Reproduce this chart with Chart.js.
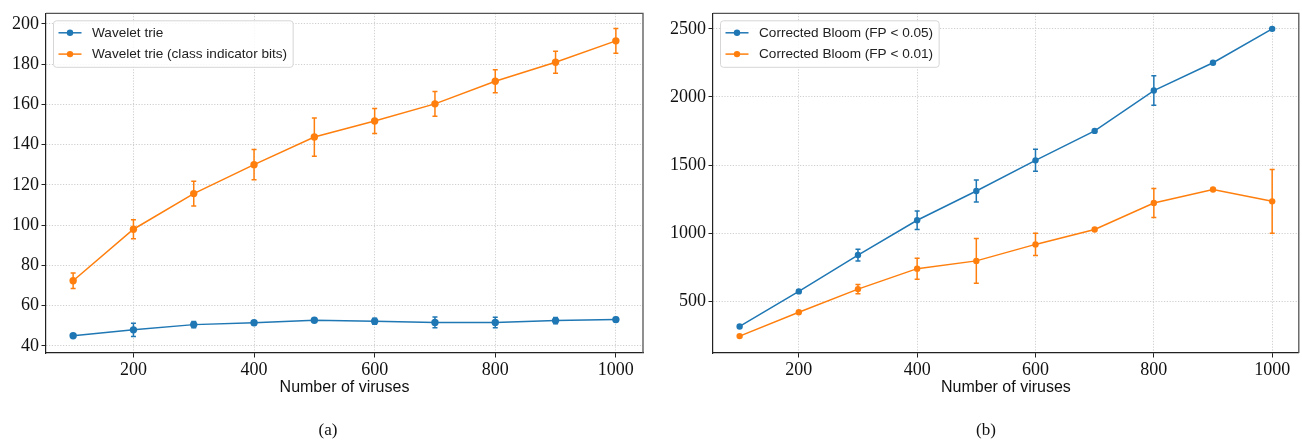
<!DOCTYPE html>
<html>
<head>
<meta charset="utf-8">
<script src="https://cdn.jsdelivr.net/npm/chart.js@4.4.1/dist/chart.umd.min.js"></script>
<style>
  html, body { margin: 0; padding: 0; background: #fff; }
  body { width: 1302px; height: 442px; position: relative; overflow: hidden; }
  .panel { position: absolute; top: 0; width: 651px; height: 442px; }
  .caption { position: absolute; top: 420px; font: 17px "Liberation Serif", serif; color: #111; transform: translateX(-50%); }
</style>
</head>
<body>
<div class="panel" style="left:0"><canvas id="chart-a" width="651" height="442"></canvas></div>
<div class="panel" style="left:651px"><canvas id="chart-b" width="651" height="442"></canvas></div>
<div class="caption" style="left:328px">(a)</div>
<div class="caption" style="left:986px">(b)</div>
<script>
var viruses = [100, 200, 300, 400, 500, 600, 700, 800, 900, 1000];
var xTicks = [200, 400, 600, 800, 1000];

// (a) wavelet trie sizes
var trie      = [45.1, 48.0, 50.6, 51.5, 52.8, 52.3, 51.7, 51.7, 52.6, 53.1];
var trieErr   = [0.8, 3.3, 1.6, 1.0, 1.0, 1.5, 2.7, 2.6, 1.6, 1.0];
var trieBits    = [72.4, 98.0, 115.7, 130.1, 143.8, 151.8, 160.3, 171.5, 181.0, 191.6];
var trieBitsErr = [3.9, 4.7, 6.2, 7.5, 9.5, 6.2, 6.2, 5.7, 5.5, 6.1];
var yTicksA = [40, 60, 80, 100, 120, 140, 160, 180, 200];

// (b) corrected bloom filter sizes
var bloom05    = [316, 573, 840, 1095, 1310, 1535, 1751, 2047, 2251, 2500];
var bloom05Err = [0, 0, 43, 68, 80, 81, 0, 108, 0, 0];
var bloom01    = [245, 420, 590, 740, 797, 918, 1027, 1222, 1321, 1234];
var bloom01Err = [0, 0, 34, 77, 165, 81, 0, 106, 0, 234];
var yTicksB = [500, 1000, 1500, 2000, 2500];

var BLUE = '#1f77b4';
var ORANGE = '#ff7f0e';

function points(ys) {
  return viruses.map(function(x, i) { return { x: x, y: ys[i] }; });
}

// vertical error bars with small caps
var errorBars = {
  id: 'errorBars',
  afterDatasetsDraw: function(chart) {
    var ctx = chart.ctx;
    var yScale = chart.scales.y;
    chart.data.datasets.forEach(function(ds, i) {
      if (!ds.errors) return;
      var meta = chart.getDatasetMeta(i);
      ctx.save();
      ctx.strokeStyle = ds.borderColor;
      ctx.lineWidth = 1.5;
      meta.data.forEach(function(pt, j) {
        var e = ds.errors[j];
        if (!e) return;
        var v = ds.data[j].y;
        var top = yScale.getPixelForValue(v + e);
        var bot = yScale.getPixelForValue(v - e);
        ctx.beginPath();
        ctx.moveTo(pt.x, top); ctx.lineTo(pt.x, bot);
        ctx.moveTo(pt.x - 2.5, top); ctx.lineTo(pt.x + 2.5, top);
        ctx.moveTo(pt.x - 2.5, bot); ctx.lineTo(pt.x + 2.5, bot);
        ctx.stroke();
      });
      ctx.restore();
    });
  }
};

// top and right spines
var frame = {
  id: 'frame',
  afterDraw: function(chart) {
    var ctx = chart.ctx, a = chart.chartArea;
    ctx.save();
    ctx.strokeStyle = '#555';
    ctx.lineWidth = 1.3;
    ctx.beginPath();
    ctx.moveTo(a.left, a.top);
    ctx.lineTo(a.right, a.top);
    ctx.lineTo(a.right, a.bottom);
    ctx.stroke();
    ctx.restore();
  }
};

// boxed legend in the upper left corner of the plot
var boxLegend = {
  id: 'boxLegend',
  afterDraw: function(chart) {
    var ctx = chart.ctx, a = chart.chartArea;
    var x0 = a.left + 7.5, y0 = a.top + 7.5;
    ctx.save();
    ctx.font = '13.6px "Liberation Sans", sans-serif';
    var w = 0;
    chart.data.datasets.forEach(function(ds) {
      w = Math.max(w, ctx.measureText(ds.label).width);
    });
    ctx.beginPath();
    ctx.roundRect(x0, y0, 38 + w + 6.5, 46.5, 3);
    ctx.fillStyle = 'rgba(255,255,255,0.85)';
    ctx.fill();
    ctx.strokeStyle = '#d6d6d6';
    ctx.lineWidth = 1;
    ctx.stroke();
    chart.data.datasets.forEach(function(ds, i) {
      var cy = y0 + 12 + i * 21.3;
      ctx.strokeStyle = ds.borderColor;
      ctx.lineWidth = 1.5;
      ctx.beginPath();
      ctx.moveTo(x0 + 5, cy); ctx.lineTo(x0 + 28, cy);
      ctx.stroke();
      ctx.fillStyle = ds.borderColor;
      ctx.beginPath();
      ctx.arc(x0 + 16.5, cy, 3.2, 0, Math.PI * 2);
      ctx.fill();
      ctx.fillStyle = '#222';
      ctx.textBaseline = 'middle';
      ctx.fillText(ds.label, x0 + 38.5, cy + 0.5);
    });
    ctx.restore();
  }
};

function plain(v) { return String(v); }

function makeOptions(yMin, yMax, yTicks, yWidth, padRight) {
  return {
    responsive: false,
    animation: false,
    layout: { padding: { top: 11, right: padRight, left: 0, bottom: 39 } },
    plugins: { legend: { display: false }, tooltip: { enabled: false } },
    scales: {
      x: {
        type: 'linear',
        min: 55,
        max: 1045,
        afterBuildTicks: function(s) { s.ticks = xTicks.map(function(v) { return { value: v }; }); },
        afterFit: function(s) { s.height = 50; },
        grid: { color: '#cfcfcf', lineWidth: 1, tickLength: 4.5, tickColor: '#222', tickWidth: 1 },
        border: { color: '#222', width: 1.2, dash: [1.2, 1.6] },
        ticks: { color: '#111', padding: 1.5, maxRotation: 0, callback: plain,
                 font: { family: '"Liberation Serif", serif', size: 18 } },
        title: { display: true, text: 'Number of viruses', color: '#111',
                 padding: { top: 0, bottom: 5.5 },
                 font: { family: '"Liberation Sans", sans-serif', size: 16 } }
      },
      y: {
        min: yMin,
        max: yMax,
        afterBuildTicks: function(s) { s.ticks = yTicks.map(function(v) { return { value: v }; }); },
        afterFit: function(s) { s.width = yWidth; },
        grid: { color: '#cfcfcf', lineWidth: 1, tickLength: 4.5, tickColor: '#222', tickWidth: 1 },
        border: { color: '#222', width: 1.2, dash: [1.2, 1.6] },
        ticks: { color: '#111', padding: 2.5, callback: plain,
                 font: { family: '"Liberation Serif", serif', size: 18 } }
      }
    }
  };
}

function series(label, ys, errs, color, radius) {
  return {
    label: label,
    data: points(ys),
    errors: errs,
    borderColor: color,
    backgroundColor: color,
    borderWidth: 1.5,
    pointRadius: radius,
    pointBorderWidth: 0,
    pointHoverRadius: radius,
    tension: 0,
    fill: false
  };
}

new Chart(document.getElementById('chart-a'), {
  type: 'line',
  data: {
    datasets: [
      series('Wavelet trie', trie, trieErr, BLUE, 3.7),
      series('Wavelet trie (class indicator bits)', trieBits, trieBitsErr, ORANGE, 3.7)
    ]
  },
  options: makeOptions(36.5, 205.3, yTicksA, 46, 8),
  plugins: [errorBars, frame, boxLegend]
});

new Chart(document.getElementById('chart-b'), {
  type: 'line',
  data: {
    datasets: [
      series('Corrected Bloom (FP < 0.05)', bloom05, bloom05Err, BLUE, 3.2),
      series('Corrected Bloom (FP < 0.01)', bloom01, bloom01Err, ORANGE, 3.2)
    ]
  },
  options: makeOptions(121, 2614, yTicksB, 62, 1),
  plugins: [errorBars, frame, boxLegend]
});
</script>
</body>
</html>
